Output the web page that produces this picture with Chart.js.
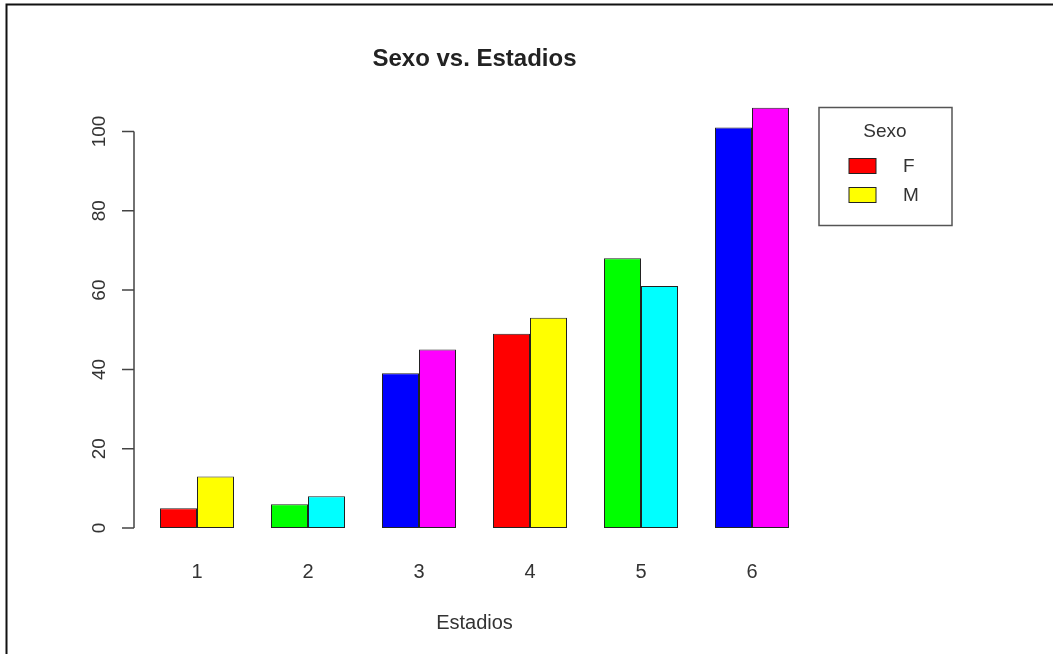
<!DOCTYPE html>
<html>
<head>
<meta charset="utf-8">
<script src="https://cdn.jsdelivr.net/npm/chart.js@4/dist/chart.umd.min.js"></script>
<style>
  html, body { margin: 0; padding: 0; background: #fff; }
  #wrap { width: 1053px; height: 654px; position: relative; }
</style>
</head>
<body>
<div id="wrap"><canvas id="sexo-chart"></canvas></div>
<script>
// data
const estadios = ['1', '2', '3', '4', '5', '6'];
const femenino = [5, 6, 39, 49, 68, 101];
const masculino = [13, 8, 45, 53, 61, 106];
const yTicks = [0, 20, 40, 60, 80, 100];

// R style palette, colours cycle through the bars
const palette = ['#FF0000', '#FFFF00', '#00FF00', '#00FFFF', '#0000FF', '#FF00FF'];
const colsF = estadios.map((_, i) => palette[(2 * i) % 6]);
const colsM = estadios.map((_, i) => palette[(2 * i + 1) % 6]);

const FONT = "'Liberation Sans', Arial, sans-serif";
const TXT = '#333';

// frame, y axis (rotated labels) and boxed legend, like base R graphics
const rDecor = {
    id: 'rDecor',
    beforeDraw(chart) {
        const ctx = chart.ctx;
        ctx.save();
        ctx.fillStyle = '#fff';
        ctx.fillRect(0, 0, chart.width, chart.height);
        ctx.strokeStyle = '#111';
        ctx.lineWidth = 2;
        ctx.beginPath();
        ctx.moveTo(6.5, chart.height);
        ctx.lineTo(6.5, 4.5);
        ctx.lineTo(chart.width, 4.5);
        ctx.stroke();
        ctx.restore();
    },
    afterDraw(chart) {
        const ctx = chart.ctx;
        const y = chart.scales.y;
        const ax = chart.chartArea.left - 7.5;
        ctx.save();
        // y axis line and ticks
        ctx.strokeStyle = '#444';
        ctx.lineWidth = 1.5;
        ctx.beginPath();
        ctx.moveTo(ax, y.getPixelForValue(yTicks[0]));
        ctx.lineTo(ax, y.getPixelForValue(yTicks[yTicks.length - 1]));
        yTicks.forEach(v => {
            const py = y.getPixelForValue(v);
            ctx.moveTo(ax, py);
            ctx.lineTo(ax - 12, py);
        });
        ctx.stroke();
        ctx.fillStyle = TXT;
        ctx.font = '19px ' + FONT;
        ctx.textAlign = 'center';
        ctx.textBaseline = 'middle';
        yTicks.forEach(v => {
            ctx.save();
            ctx.translate(ax - 34, y.getPixelForValue(v));
            ctx.rotate(-Math.PI / 2);
            ctx.fillText(String(v), 0, 0);
            ctx.restore();
        });

        // legend
        const lx = chart.chartArea.right + 11.5;
        const ly = 107.5;
        ctx.strokeStyle = '#555';
        ctx.lineWidth = 1.5;
        ctx.strokeRect(lx, ly, 133, 118);
        ctx.fillText('Sexo', lx + 66, ly + 24);
        chart.data.datasets.forEach((ds, i) => {
            const ry = ly + 51 + i * 29;
            ctx.fillStyle = ds.backgroundColor[0];
            ctx.fillRect(lx + 30, ry, 27, 15);
            ctx.strokeStyle = '#222';
            ctx.lineWidth = 1;
            ctx.strokeRect(lx + 30, ry, 27, 15);
            ctx.fillStyle = TXT;
            ctx.textAlign = 'left';
            ctx.fillText(ds.label, lx + 84, ry + 8);
            ctx.textAlign = 'center';
        });
        ctx.restore();
    }
};

const ctx = document.getElementById('sexo-chart').getContext('2d');

new Chart(ctx, {
    type: 'bar',
    data: {
        labels: estadios,
        datasets: [{
            label: 'F',
            data: femenino,
            backgroundColor: colsF,
            borderColor: '#222',
            borderWidth: 1,
            borderSkipped: false
        }, {
            label: 'M',
            data: masculino,
            backgroundColor: colsM,
            borderColor: '#222',
            borderWidth: 1,
            borderSkipped: false
        }]
    },
    options: {
        responsive: true,
        maintainAspectRatio: false,
        animation: false,
        devicePixelRatio: 1,
        layout: { padding: { left: 0, right: 245.5, top: 0, bottom: 0 } },
        datasets: {
            bar: { categoryPercentage: 0.6667, barPercentage: 1 }
        },
        plugins: {
            legend: { display: false },
            tooltip: { enabled: false },
            title: {
                display: true,
                fullSize: false,
                text: 'Sexo vs. Estadios',
                color: '#222',
                font: { family: FONT, size: 24, weight: 'bold' },
                padding: { top: 45, bottom: 18 }
            }
        },
        scales: {
            x: {
                grid: { display: false, drawTicks: false },
                border: { display: false },
                ticks: { color: TXT, padding: 32, font: { family: FONT, size: 20 } },
                title: {
                    display: true,
                    text: 'Estadios',
                    color: TXT,
                    font: { family: FONT, size: 20 },
                    padding: { top: 0, bottom: 19 }
                },
                afterFit(scale) { scale.height = 126; }
            },
            y: {
                min: 0,
                max: 110,
                grid: { display: false, drawTicks: false },
                border: { display: false },
                ticks: { display: false },
                afterBuildTicks(scale) { scale.ticks = yTicks.map(v => ({ value: v })); },
                afterFit(scale) { scale.width = 141.5; }
            }
        }
    },
    plugins: [rDecor]
});
</script>
</body>
</html>
